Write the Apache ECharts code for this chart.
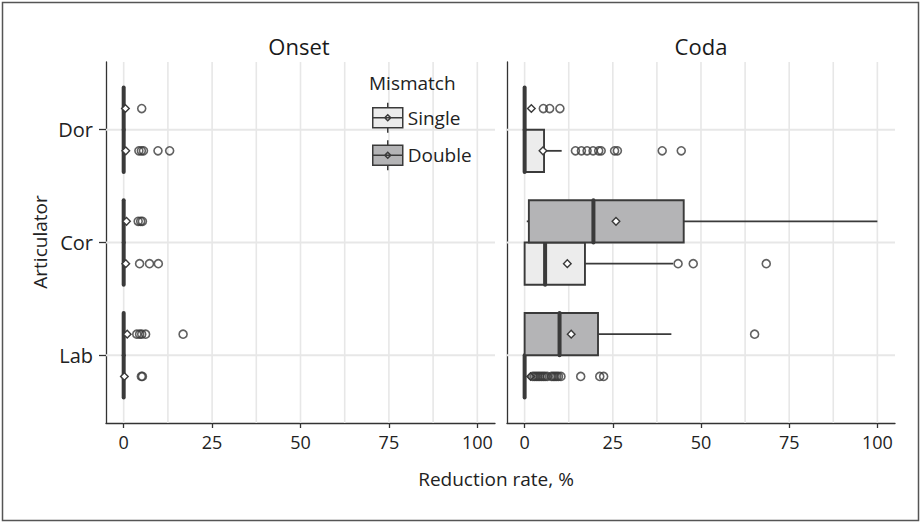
<!DOCTYPE html>
<html><head><meta charset="utf-8">
<script src="https://cdn.jsdelivr.net/npm/echarts@6/dist/echarts.min.js"></script>
<style>html,body{margin:0;padding:0;background:#fff}#chart{width:924px;height:525px}</style>
</head><body><div id="chart"></div>
<script>
// ---------- data ----------
const categories = ['Lab', 'Cor', 'Dor'];          // bottom -> top
const panels = ['Onset', 'Coda'];
const groups = ['Single', 'Double'];
const xTicks = [0, 25, 50, 75, 100];
const gridValues = [0, 12.5, 25, 37.5, 50, 62.5, 75, 87.5, 100];

// box stats per category (Lab, Cor, Dor): [lowWhisker, q1, median, q3, highWhisker, mean]
const onsetSingleStats = [[0, 0, 0, 0, 0, 0.2], [0, 0, 0, 0, 0, 0.6], [0, 0, 0, 0, 0, 0.6]];
const onsetDoubleStats = [[0, 0, 0, 0, 0, 1.0], [0, 0, 0, 0, 0, 0.8], [0, 0, 0, 0, 0, 0.5]];
const codaSingleStats  = [[0, 0, 0, 0, 0, 1.7], [0, 0, 5.8, 17.1, 42.1, 12.1], [0, 0, 0, 5.5, 10.5, 5.2]];
const codaDoubleStats  = [[0, 0, 9.9, 20.8, 41.6, 13.2], [0.6, 1.2, 19.5, 45.1, 100, 25.9], [0, 0, 0, 0, 0, 1.9]];

// outliers per category (Lab, Cor, Dor)
const onsetSingleOut = [[5.0, 5.3], [4.5, 7.3, 9.8], [4.3, 5.0, 5.6, 9.7, 13.0]];
const onsetDoubleOut = [[3.7, 4.5, 5.1, 6.2, 16.8], [4.1, 4.8, 5.3], [5.1]];
const codaSingleOut  = [[2.3, 2.8, 3.3, 3.8, 4.3, 4.8, 5.3, 5.8, 6.4, 7.6, 8.1, 8.6, 9.1, 9.6, 10.3, 15.9, 21.3, 22.4],
                        [43.5, 47.8, 68.5],
                        [14.4, 16.1, 17.7, 19.4, 21.0, 21.7, 25.5, 26.3, 39.0, 44.4]];
const codaDoubleOut  = [[65.2], [], [5.3, 7.1, 10.0]];

// ---------- styling ----------
const FONT = '"Open Sans", "Noto Sans", sans-serif';
const INK = '#3a3a3a';
const GRIDC = '#e7e7e7';
const fills = { Single: '#ececec', Double: '#b4b4b6' };
const dodge = { Single: -0.1875, Double: 0.1875 };
const HALF = 0.1875;

const statsBy = { Onset: { Single: onsetSingleStats, Double: onsetDoubleStats },
                  Coda:  { Single: codaSingleStats,  Double: codaDoubleStats } };
const outBy = { Onset: { Single: onsetSingleOut, Double: onsetDoubleOut },
                Coda:  { Single: codaSingleOut,  Double: codaDoubleOut } };

const grids = [
  { left: 106, top: 62, width: 389, height: 361 },
  { left: 507, top: 62, width: 388, height: 361 }
];

function boxRenderer(group) {
  return function (params, api) {
    const cat = api.value(0);
    const yc = cat + dodge[group];
    const low = api.coord([api.value(1), yc]);
    const q1 = api.coord([api.value(2), yc]);
    const med = api.coord([api.value(3), yc]);
    const q3 = api.coord([api.value(4), yc]);
    const high = api.coord([api.value(5), yc]);
    const mean = api.coord([api.value(6), yc]);
    const yTop = api.coord([0, yc + HALF])[1];
    const yBot = api.coord([0, yc - HALF])[1];
    const children = [];
    if (q1[0] - low[0] > 0.5) children.push({ type: 'line', shape: { x1: low[0], y1: low[1], x2: q1[0], y2: q1[1] }, style: { stroke: INK, lineWidth: 1.8 } });
    if (high[0] - q3[0] > 0.5) children.push({ type: 'line', shape: { x1: q3[0], y1: q3[1], x2: high[0], y2: high[1] }, style: { stroke: INK, lineWidth: 1.8 } });
    children.push({ type: 'rect', shape: { x: q1[0], y: yTop, width: q3[0] - q1[0], height: yBot - yTop }, style: { fill: fills[group], stroke: INK, lineWidth: 1.9 } });
    children.push({ type: 'line', shape: { x1: med[0], y1: yTop, x2: med[0], y2: yBot }, style: { stroke: INK, lineWidth: 4, lineCap: 'round' } });
    const d = 3.8;
    children.push({ type: 'polygon', shape: { points: [[mean[0] - d, mean[1]], [mean[0], mean[1] - d], [mean[0] + d, mean[1]], [mean[0], mean[1] + d]] }, style: { fill: '#fff', stroke: INK, lineWidth: 1.4 } });
    return { type: 'group', children };
  };
}

const xAxis = [], yAxis = [], series = [];
panels.forEach((p, pi) => {
  xAxis.push({
    gridIndex: pi, type: 'value', min: -5, max: 105,
    axisLine: { show: true, onZero: false, lineStyle: { color: '#333', width: 1.3 } },
    axisTick: { show: true, customValues: xTicks, length: 5, lineStyle: { color: '#333', width: 1.3 } },
    axisLabel: { customValues: xTicks, fontSize: 18, color: '#222', fontFamily: FONT, margin: 10 },
    splitLine: { show: false }
  });
  yAxis.push({
    gridIndex: pi, type: 'value', min: 0.4, max: 3.6,
    axisLine: { show: true, onZero: false, lineStyle: { color: '#333', width: 1.3 } },
    axisTick: { show: pi === 0, customValues: [1, 2, 3], length: 7, lineStyle: { color: '#333', width: 1.3 } },
    axisLabel: { show: pi === 0, customValues: [1, 2, 3], formatter: v => categories[Math.round(v) - 1] || '',
                 fontSize: 20, color: '#222', fontFamily: FONT, margin: 13 },
    splitLine: { show: false }
  });
  // vertical gridlines
  series.push({
    type: 'custom', xAxisIndex: pi, yAxisIndex: pi, silent: true, z: 1,
    data: gridValues.map(v => [v]), encode: { x: 0 },
    renderItem: (params, api) => {
      const cs = params.coordSys;
      const x = api.coord([api.value(0), 2])[0];
      return { type: 'line', shape: { x1: x, y1: cs.y, x2: x, y2: cs.y + cs.height }, style: { stroke: GRIDC, lineWidth: 1.6 } };
    }
  });
  // horizontal gridlines at categories
  series.push({
    type: 'custom', xAxisIndex: pi, yAxisIndex: pi, silent: true, z: 1,
    data: categories.map((c, i) => [i + 1]), encode: { y: 0 },
    renderItem: (params, api) => {
      const cs = params.coordSys;
      const y = api.coord([0, api.value(0)])[1];
      return { type: 'line', shape: { x1: cs.x, y1: y, x2: cs.x + cs.width, y2: y }, style: { stroke: GRIDC, lineWidth: 2 } };
    }
  });
  groups.forEach(g => {
    series.push({
      name: g, type: 'custom', xAxisIndex: pi, yAxisIndex: pi, z: 3, silent: true,
      itemStyle: { color: fills[g], borderColor: INK },
      data: statsBy[p][g].map((s, i) => [i + 1].concat(s)),
      encode: { x: [1, 2, 3, 4, 5, 6], y: 0 },
      renderItem: boxRenderer(g)
    });
    const pts = [];
    outBy[p][g].forEach((vals, i) => vals.forEach(v => pts.push([v, i + 1 + dodge[g]])));
    series.push({
      name: g, type: 'scatter', xAxisIndex: pi, yAxisIndex: pi, z: 4, silent: true,
      symbol: 'circle', symbolSize: 8,
      itemStyle: { color: 'rgba(255,255,255,0)', borderColor: INK, borderWidth: 1.6 },
      data: pts
    });
  });
});

const keyPath = 'path://M0,5L30,5L30,25L0,25Z M0,15L30,15 M15,0L15,5 M15,25L15,30 M15,12L18,15L15,18L12,15Z';

const option = {
  animation: false,
  backgroundColor: '#fff',
  grid: grids,
  xAxis, yAxis, series,
  legend: {
    orient: 'vertical', left: 372, top: 102, padding: 0, itemGap: 6,
    itemWidth: 30, itemHeight: 30, selectedMode: false,
    textStyle: { fontSize: 19, color: '#222', fontFamily: FONT },
    data: [
      { name: 'Single', icon: keyPath, itemStyle: { color: fills.Single, borderColor: INK, borderWidth: 1.5 } },
      { name: 'Double', icon: keyPath, itemStyle: { color: fills.Double, borderColor: INK, borderWidth: 1.5 } }
    ]
  },
  graphic: [
    { type: 'rect', z: 0, silent: true, shape: { x: 2.5, y: 2.5, width: 916, height: 518 }, style: { fill: 'none', stroke: '#555', lineWidth: 1.5 } },
    { type: 'text', x: 299, y: 46, style: { text: panels[0], font: '22px ' + FONT, fill: '#1a1a1a', align: 'center', verticalAlign: 'middle' } },
    { type: 'text', x: 701, y: 46, style: { text: panels[1], font: '22px ' + FONT, fill: '#1a1a1a', align: 'center', verticalAlign: 'middle' } },
    { type: 'text', x: 369, y: 83, z: 10, style: { text: 'Mismatch', font: '19px ' + FONT, fill: '#222', align: 'left', verticalAlign: 'middle' } },
    { type: 'text', x: 496, y: 479, style: { text: 'Reduction rate, %', font: '19px ' + FONT, fill: '#222', align: 'center', verticalAlign: 'middle' } },
    { type: 'text', x: 40, y: 242, rotation: Math.PI / 2, style: { text: 'Articulator', font: '19px ' + FONT, fill: '#222', align: 'center', verticalAlign: 'middle' } }
  ]
};

const chart = echarts.init(document.getElementById('chart'), null, { renderer: 'svg', width: 924, height: 525 });
chart.setOption(option);
</script></body></html>
